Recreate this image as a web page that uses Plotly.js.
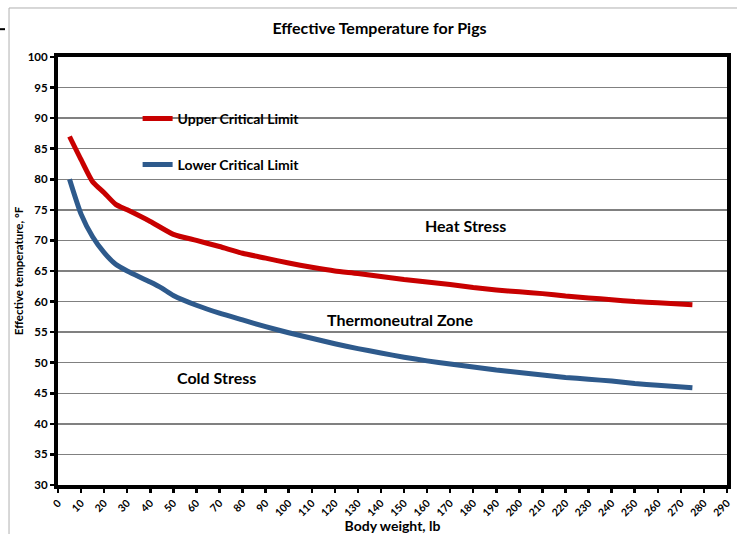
<!DOCTYPE html>
<html>
<head>
<meta charset="utf-8">
<script src="https://cdn.plot.ly/plotly-3.0.1.min.js"></script>
<style>html,body{margin:0;padding:0;background:#fff;}#chart{width:737px;height:534px;}</style>
</head>
<body>
<div id="chart"></div>
<script>
// Body weight (lb)
var weightUpper = [5, 10, 15, 20, 25, 30, 40, 50, 60, 70, 80, 90, 100, 110, 120, 130, 140, 150, 160, 170, 180, 190, 200, 210, 220, 230, 240, 250, 260, 275];
var upperCritical = [87, 83.2, 79.6, 77.8, 75.9, 75, 73.1, 71, 70, 69, 67.9, 67.1, 66.3, 65.6, 65, 64.6, 64.1, 63.6, 63.2, 62.8, 62.3, 61.9, 61.6, 61.3, 60.9, 60.6, 60.3, 60.0, 59.8, 59.5];
var weightLower = [5, 10, 15, 20, 25, 30, 40, 45, 50, 60, 70, 80, 90, 100, 110, 120, 130, 140, 150, 160, 170, 180, 190, 200, 210, 220, 230, 240, 250, 260, 275];
var lowerCritical = [80, 74.3, 70.6, 68, 66.1, 65.0, 63.2, 62.2, 61.0, 59.4, 58.1, 57.0, 55.9, 54.9, 54.0, 53.1, 52.3, 51.6, 50.9, 50.3, 49.8, 49.3, 48.8, 48.4, 48.0, 47.6, 47.3, 47.0, 46.6, 46.3, 45.9];
var seriesNames = ["Upper Critical Limit", "Lower Critical Limit"];
var zoneLabels = ["Heat Stress", "Thermoneutral Zone", "Cold Stress"];
var xTicks = [0,10,20,30,40,50,60,70,80,90,100,110,120,130,140,150,160,170,180,190,200,210,220,230,240,250,260,270,280,290];
var yTicks = [30,35,40,45,50,55,60,65,70,75,80,85,90,95,100];

var FONT = "Lato, 'Open Sans', sans-serif";
var traces = [
  {x: weightUpper, y: upperCritical, name: seriesNames[0], mode: "lines", legendgroup: "a",
   line: {color: "#C80000", width: 5, shape: "spline", smoothing: 0.6}},
  {x: weightLower, y: lowerCritical, name: seriesNames[1], mode: "lines", legendgroup: "b",
   line: {color: "#2E5A8C", width: 5, shape: "spline", smoothing: 0.6}}
];

var layout = {
  width: 737, height: 534,
  margin: {l: 58, r: 10, t: 57, b: 49},
  paper_bgcolor: "#fff", plot_bgcolor: "#fff",
  font: {family: FONT, color: "#000"},
  title: {text: "<b>Effective Temperature for Pigs</b>", font: {size: 16, family: FONT, color: "#000"},
          x: 0.4806, xanchor: "center", y: 0.947, yanchor: "middle", xref: "paper", yref: "container"},
  showlegend: true,
  legend: {x: 0.119, y: 0.893, xanchor: "left", yanchor: "top", bgcolor: "rgba(0,0,0,0)",
           borderwidth: 0, traceorder: "grouped", tracegroupgap: 25,
           font: {size: 14, family: FONT, color: "#000", weight: "bold"}},
  xaxis: {range: [0, 290], tickvals: xTicks, ticktext: xTicks.map(String), tickangle: -45,
          showgrid: false, zeroline: false, showline: true, linecolor: "#000", linewidth: 4, mirror: true,
          ticks: "outside", ticklen: 4, tickwidth: 2.5, tickcolor: "#000",
          tickfont: {size: 10.5, family: FONT, weight: "bold"},
          title: {text: "<b>Body weight, lb</b>", font: {size: 14, family: FONT}, standoff: 6}},
  yaxis: {range: [30, 100], tickvals: yTicks, ticktext: yTicks.map(String),
          showgrid: true, gridcolor: "#808080", gridwidth: 1.5, zeroline: false,
          showline: true, linecolor: "#000", linewidth: 4, mirror: true,
          ticks: "outside", ticklen: 4, tickwidth: 2.5, tickcolor: "#000",
          tickfont: {size: 11.5, family: FONT, weight: "bold"},
          title: {text: "<b>Effective temperature, °F</b>", font: {size: 11.5, family: FONT}, standoff: 3}},
  xaxis2: {overlaying: "x", anchor: "y", range: [0, 290], tickvals: xTicks, showticklabels: false,
           showgrid: false, zeroline: false, ticks: "inside", ticklen: 4, tickwidth: 2.5, tickcolor: "#000", side: "bottom"},
  yaxis2: {overlaying: "y", anchor: "x", range: [30, 100], tickvals: yTicks, showticklabels: false,
           showgrid: false, zeroline: false, ticks: "inside", ticklen: 4, tickwidth: 2.5, tickcolor: "#000", side: "left"},
  shapes: [
    {type: "rect", xref: "paper", yref: "paper", x0: -0.0732, x1: 1.06, y0: -0.16, y1: 1.1145,
     line: {color: "#b0b0b0", width: 1}, fillcolor: "rgba(0,0,0,0)", layer: "below"},
    {type: "rect", xref: "paper", yref: "paper", x0: 0.1256, x1: 0.366, y0: 0.71, y1: 0.92,
     line: {width: 0}, fillcolor: "#fff", layer: "between"},
    {type: "line", xref: "paper", yref: "paper", x0: -0.0867, x1: -0.0792, y0: 1.065, y1: 1.065,
     line: {color: "#000", width: 2}}
  ],
  annotations: [
    {x: 176.6, y: 72.5, xref: "x", yref: "y", text: "<b>" + zoneLabels[0] + "</b>", showarrow: false, font: {size: 16, family: FONT}},
    {x: 148.5, y: 57.0, xref: "x", yref: "y", text: "<b>" + zoneLabels[1] + "</b>", showarrow: false, font: {size: 16, family: FONT}},
    {x: 68.8, y: 47.6, xref: "x", yref: "y", text: "<b>" + zoneLabels[2] + "</b>", showarrow: false, font: {size: 16, family: FONT}}
  ]
};

Plotly.newPlot("chart", traces, layout, {displayModeBar: false, staticPlot: true});
</script>
</body>
</html>
